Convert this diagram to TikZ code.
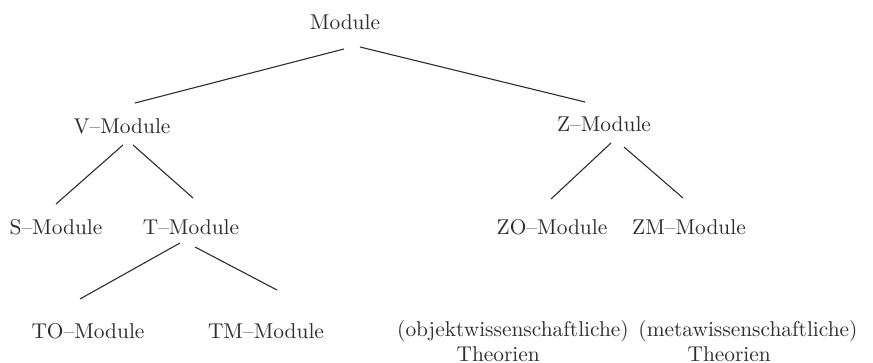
\documentclass[tikz,border=0pt]{standalone}
\usepackage{tikz}
\definecolor{ink}{gray}{0.18}

\begin{document}
\begin{tikzpicture}[x=0.5pt,y=-0.5pt,line width=0.55pt,draw=ink,
    every node/.style={text=ink,inner sep=0pt,font=\fontsize{10.7}{12}\selectfont}]
      \useasboundingbox[fill=white] (0,0) rectangle (873,363);
      \node (root)  at (345,22)  {Module};
      \node (vmod)  at (122,126) {V--Module};
      \node (zmod)  at (604,124) {Z--Module};
      \node (smod)  at (56,227)  {S--Module};
      \node (tmod)  at (191,227) {T--Module};
      \node (zomod) at (552,227) {ZO--Module};
      \node (zmmod) at (689,227) {ZM--Module};
      \node (tomod) at (88,331)  {TO--Module};
      \node (tmmod) at (266,331) {TM--Module};
      \node (obj)   at (513,331) {(objektwissenschaftliche)};
      \node (meta)  at (748,331) {(metawissenschaftliche)};
      \node[anchor=west] (objth)  at (456,354) {Theorien};
      \node[anchor=west] (metath) at (687,354) {Theorien};

      \draw ([shift={(-1,27)}]root.center) -- ([shift={(13,-23)}]vmod.center);
      \draw ([shift={(15,25)}]root.center) -- ([shift={(-19,-22)}]zmod.center);
      \draw ([shift={(1,19)}]vmod.center) -- ([shift={(0,-23)}]smod.center);
      \draw ([shift={(11,19)}]vmod.center) -- ([shift={(2,-29)}]tmod.center);
      \draw ([shift={(7,19)}]zmod.center) -- ([shift={(-1,-28)}]zomod.center);
      \draw ([shift={(20,23)}]zmod.center) -- ([shift={(-6,-29)}]zmmod.center);
      \draw ([shift={(-11,16)}]tmod.center) -- ([shift={(-8,-32)}]tomod.center);
      \draw ([shift={(4,20)}]tmod.center) -- ([shift={(11,-41)}]tmmod.center);
    \end{tikzpicture}
\end{document}
